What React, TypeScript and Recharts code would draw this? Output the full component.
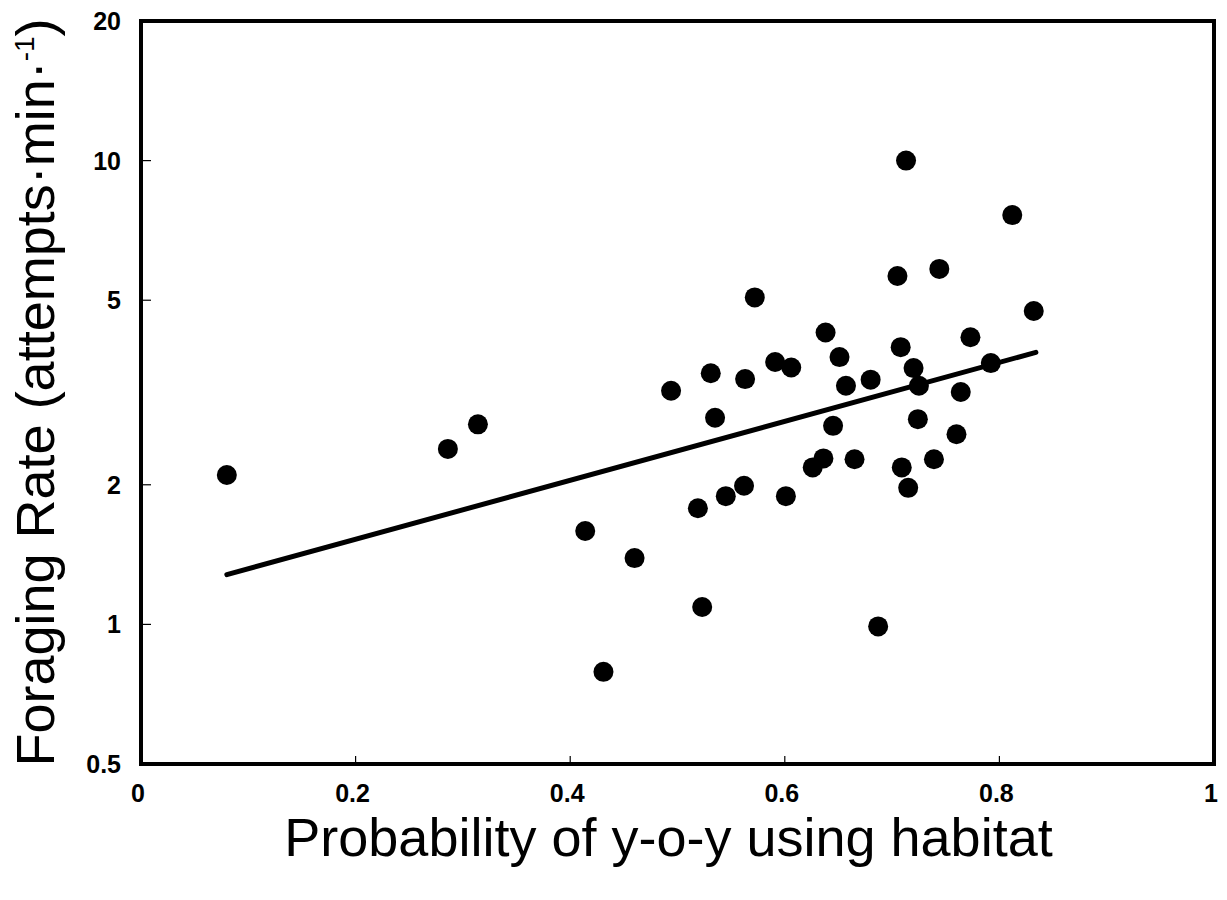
import React from 'react';
import { ScatterChart, Scatter, XAxis, YAxis, ReferenceArea, Label } from 'recharts';

// values
const probability = [
  0.080, 0.286, 0.314, 0.414, 0.431, 0.460, 0.494, 0.519, 0.523, 0.531,
  0.535, 0.545, 0.562, 0.563, 0.572, 0.591, 0.601, 0.606, 0.626, 0.636,
  0.638, 0.645, 0.651, 0.657, 0.665, 0.680, 0.687, 0.705, 0.708, 0.709,
  0.713, 0.715, 0.720, 0.725, 0.724, 0.739, 0.744, 0.760, 0.764, 0.773,
  0.792, 0.812, 0.832,
];
const foragingRate = [
  2.10, 2.39, 2.70, 1.59, 0.79, 1.39, 3.19, 1.78, 1.09, 3.48,
  2.79, 1.89, 1.99, 3.38, 5.07, 3.68, 1.89, 3.58, 2.18, 2.28,
  4.26, 2.68, 3.77, 3.27, 2.27, 3.37, 0.99, 5.64, 3.96, 2.18,
  10.0, 1.97, 3.57, 3.27, 2.77, 2.27, 5.84, 2.57, 3.17, 4.16,
  3.66, 7.63, 4.74,
];

// regression line end points
const fitX = [0.08, 0.834];
const fitY = [1.28, 3.86];

const xTicks = [0, 0.2, 0.4, 0.6, 0.8, 1];
const yTicks = [0.5, 1, 2, 5, 10, 20];

const points = probability.map((x, i) => ({ x, y: foragingRate[i] }));
const fitLine = fitX.map((x, i) => ({ x, y: fitY[i] }));

const font = '"Liberation Sans", Arial, Helvetica, sans-serif';
const tickStyle = { fontSize: 25, fontWeight: 'bold' as const, fontFamily: font, fill: '#000' };

const XTick = (props: any) => {
  const { x, y, payload } = props;
  const v = payload.value;
  const inner = v > 0 && v < 1;
  return (
    <g>
      {inner && <line x1={x} y1={y} x2={x} y2={y - 8} stroke="#000" strokeWidth={1.2} />}
      <text x={x - 3} y={y + 38} textAnchor="middle" style={tickStyle}>
        {String(v)}
      </text>
    </g>
  );
};

const YTick = (props: any) => {
  const { x, y, payload } = props;
  const v = payload.value;
  const inner = v > 0.5 && v < 20;
  return (
    <g>
      {inner && <line x1={x} y1={y} x2={x + 10} y2={y} stroke="#000" strokeWidth={1.2} />}
      <text x={x - 20} y={y + 9} textAnchor="end" style={tickStyle}>
        {String(v)}
      </text>
    </g>
  );
};

const Dot = (props: any) => <circle cx={props.cx} cy={props.cy} r={10} fill="#000" />;

export default function App() {
  return (
    <ScatterChart width={1219} height={884} margin={{ top: 13, right: 13, bottom: 0, left: 0 }}>
      <XAxis
        type="number"
        dataKey="x"
        domain={[0, 1]}
        ticks={xTicks}
        axisLine={false}
        tickLine={false}
        tickSize={0}
        tickMargin={0}
        tick={XTick}
        height={128}
        interval={0}
      >
        <Label
          content={(p: any) => {
            const vb = p.viewBox;
            return (
              <text
                x={vb.x + vb.width / 2 - 9}
                y={vb.y + 92}
                textAnchor="middle"
                style={{ fontSize: 54, fontFamily: font, fill: '#000' }}
              >
                Probability of y-o-y using habitat
              </text>
            );
          }}
        />
      </XAxis>
      <YAxis
        type="number"
        dataKey="y"
        scale="log"
        domain={[0.5, 20]}
        ticks={yTicks}
        allowDataOverflow
        axisLine={false}
        tickLine={false}
        tickSize={0}
        tickMargin={0}
        tick={YTick}
        width={133}
        interval={0}
      >
        <Label
          content={(p: any) => {
            const vb = p.viewBox;
            const cx = vb.x + 46;
            const cy = vb.y + vb.height / 2;
            return (
              <text
                x={cx}
                y={cy}
                transform={`rotate(-90, ${cx}, ${cy})`}
                textAnchor="middle"
                style={{ fontSize: 54, fontFamily: font, fill: '#000' }}
              >
                Foraging Rate (attempts·min·
                <tspan style={{ fontSize: 28 }} dy={-20}>-1</tspan>
                <tspan dy={20}>)</tspan>
              </text>
            );
          }}
        />
      </YAxis>
      <ReferenceArea x1={0} x2={1} y1={0.5} y2={20} fill="none" stroke="#000" strokeWidth={4} ifOverflow="visible" />
      <Scatter
        data={fitLine}
        line={{ stroke: '#000', strokeWidth: 5, strokeLinecap: 'round' }}
        shape={() => <g />}
        isAnimationActive={false}
      />
      <Scatter data={points} shape={Dot} isAnimationActive={false} />
    </ScatterChart>
  );
}
